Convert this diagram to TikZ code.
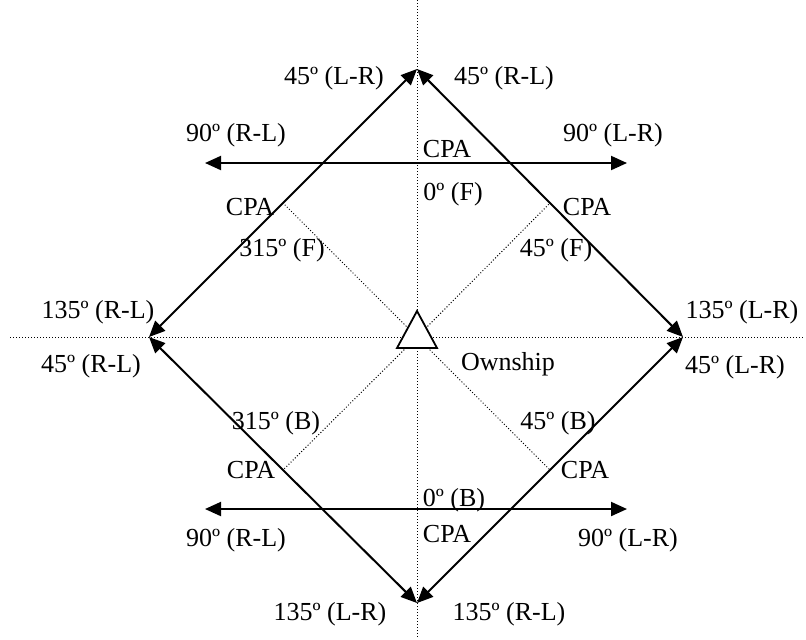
\documentclass[tikz,border=0pt]{standalone}
\usepackage{fontspec}
\setmainfont{Liberation Serif}
\usetikzlibrary{arrows.meta,positioning}
\definecolor{PlotBlack}{HTML}{000000}

\tikzset{
  course/.style={PlotBlack, line width=1pt, {Triangle[length=8pt,width=7pt]}-{Triangle[length=8pt,width=7pt]}},
  guide/.style={PlotBlack, line width=0.5pt, dash pattern=on 0.5pt off 1pt},
  lbl/.style={PlotBlack, font=\fontsize{13}{15}\selectfont, inner sep=0pt},
}

\begin{document}
\begin{tikzpicture}[x=0.5pt,y=-0.5pt]
\useasboundingbox (0,0) rectangle (806,639);

\coordinate (o) at (417,337);
\coordinate (axN) at (417,0);
\coordinate (axS) at (417,639);
\coordinate (axW) at (10,337);
\coordinate (axE) at (804,337);

\coordinate (n) at (417,69);
\coordinate (e) at (683,337);
\coordinate (s) at (417,603);
\coordinate (w) at (149,337);

\coordinate (cpaNW) at (283,203);
\coordinate (cpaNE) at (550,203);
\coordinate (cpaSW) at (283,470);
\coordinate (cpaSE) at (550,470);

\coordinate (fwdL) at (205,163);
\coordinate (fwdR) at (627,163);
\coordinate (aftL) at (205,509);
\coordinate (aftR) at (627,509);

\draw[guide] (axN) -- (axS);
\draw[guide] (axW) -- (axE);
\draw[guide] (o) -- (cpaNW);
\draw[guide] (o) -- (cpaNE);
\draw[guide] (o) -- (cpaSW);
\draw[guide] (o) -- (cpaSE);

\draw[course] (w) -- (n);
\draw[course] (n) -- (e);
\draw[course] (e) -- (s);
\draw[course] (s) -- (w);
\draw[course] (fwdL) -- (fwdR);
\draw[course] (aftL) -- (aftR);

\draw[PlotBlack, line width=0.9pt, fill=white] (417,311) -- (437,348) -- (397,348) -- cycle;

\node[lbl] (topL) at (334,78) {45º (L-R)};
\node[lbl] (topR) at (504,78) {45º (R-L)};
\node[lbl] (fwdLlbl) at (236,135) {90º (R-L)};
\node[lbl] (fwdRlbl) at (613,135) {90º (L-R)};
\node[lbl] (fwdCpa) at (447,149) {CPA};
\node[lbl] (fwdAng) at (453,194) {0º (F)};
\node[lbl] (nwCpa) at (250,207) {CPA};
\node[lbl] (neCpa) at (587,207) {CPA};
\node[lbl] (nwAng) at (282,250) {315º (F)};
\node[lbl] (neAng) at (556,250) {45º (F)};
\node[lbl] (leftU) at (98,312) {135º (R-L)};
\node[lbl] (leftD) at (91,366) {45º (R-L)};
\node[lbl] (rightU) at (742,312) {135º (L-R)};
\node[lbl] (rightD) at (735,367) {45º (L-R)};
\node[lbl] (own) at (508,364) {Ownship};
\node[lbl] (swAng) at (276,423) {315º (B)};
\node[lbl] (seAng) at (558,423) {45º (B)};
\node[lbl] (swCpa) at (251,470) {CPA};
\node[lbl] (seCpa) at (585,470) {CPA};
\node[lbl] (aftAng) at (454,500) {0º (B)};
\node[lbl] (aftCpa) at (447,534) {CPA};
\node[lbl] (aftLlbl) at (236,540) {90º (R-L)};
\node[lbl] (aftRlbl) at (628,540) {90º (L-R)};
\node[lbl] (botL) at (330,614) {135º (L-R)};
\node[lbl] (botR) at (509,614) {135º (R-L)};

\end{tikzpicture}
\end{document}
